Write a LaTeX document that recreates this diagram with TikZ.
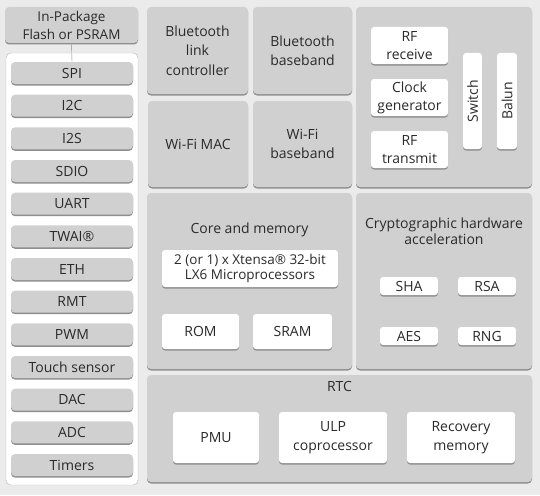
\documentclass[tikz,border=0pt]{standalone}
\usepackage{fontspec}
\setmainfont{Open Sans}
\usetikzlibrary{positioning,shadows}
\definecolor{pagebg}{HTML}{EBEBEB}
\definecolor{blockgray}{HTML}{D0D0D0}
\definecolor{shadegray}{HTML}{8E8E8E}
\definecolor{framegray}{HTML}{B8B8B8}
\definecolor{inkgray}{HTML}{2A2A2A}
\tikzset{
	block/.style={
		rectangle,
		rounded corners=4,
		fill=blockgray,
		text=inkgray,
		align=center,
		inner sep=0,
		drop shadow={shadow xshift=0pt,shadow yshift=-1.5pt,fill=shadegray,opacity=1}},
	chip/.style={
		block,
		fill=white,
		rounded corners=3},
	periph/.style={
		block,
		minimum width=122,
		minimum height=22},
	title/.style={
		text=inkgray,
		align=center,
		inner sep=0}}
\begin{document}
\begin{tikzpicture}[x=1pt,y=-1pt,font=\fontsize{14}{19.5}\selectfont]
	\fill[pagebg] (0,0) rectangle (540,495);
	\useasboundingbox (0,0) rectangle (540,495);
	% flash and peripherals
	\node[block,minimum width=133,minimum height=36,font=\fontsize{13.5}{18}\selectfont]	(flash)	at (71.5,25)	{In-Package\\Flash or PSRAM};
	\node[rectangle,rounded corners=5,draw=framegray,fill=white,minimum width=132,minimum height=432]	(bus)	at (72,269)	{};
	\foreach \name/\label [count=\i from 0] in {spi/SPI,itwoc/I2C,itwos/I2S,sdio/SDIO,uart/UART,twai/TWAI\textregistered,eth/ETH,rmt/RMT,pwm/PWM,touch/Touch sensor,dac/DAC,adc/ADC,timers/Timers}
		\node[periph]	(\name)	at (72,{73+32.67*\i})	{\label};
	\draw[shadegray] (flash.south) -- (spi.north);
	% radio
	\node[block,minimum width=101,minimum height=87]	(btlink)	at (197.5,50.5)	{Bluetooth\\link\\controller};
	\node[block,minimum width=99,minimum height=87]	(btbase)	at (302.5,50.5)	{Bluetooth\\baseband};
	\node[block,minimum width=100,minimum height=86]	(wifimac)	at (198,144)	{Wi-Fi MAC};
	\node[block,minimum width=99,minimum height=86]	(wifibase)	at (302.5,144)	{Wi-Fi\\baseband};
	\node[block,minimum width=176,minimum height=180]	(rf)	at (444,97)	{};
	\node[chip,minimum width=77,minimum height=37,font=\fontsize{14}{18}\selectfont]	(rfrx)	at (409.5,45.5)	{RF\\receive};
	\node[chip,minimum width=77,minimum height=37,font=\fontsize{14}{18}\selectfont]	(clkgen)	at (409.5,97.5)	{Clock\\generator};
	\node[chip,minimum width=77,minimum height=37,font=\fontsize{14}{18}\selectfont]	(rftx)	at (409.5,149.5)	{RF\\transmit};
	\node[chip,minimum width=19,minimum height=96]	(switch)	at (472.5,101)	{};
	\node[title,rotate=90]	at (switch)	{Switch};
	\node[chip,minimum width=20,minimum height=96]	(balun)	at (507,101)	{};
	\node[title,rotate=90]	at (balun)	{Balun};
	% core and memory
	\node[block,minimum width=205,minimum height=176]	(core)	at (249.5,281)	{};
	\node[title]	(coretitle)	at (249.5,230)	{Core and memory};
	\node[chip,minimum width=176,minimum height=37,font=\fontsize{13.5}{15.5}\selectfont]	(xtensa)	at (250,268.5)	{2 (or 1) x Xtensa\textregistered\ 32-bit\\LX6 Microprocessors};
	\node[chip,minimum width=77,minimum height=35]	(rom)	at (200.5,331.5)	{ROM};
	\node[chip,minimum width=79,minimum height=35]	(sram)	at (292.5,331.5)	{SRAM};
	% crypto
	\node[block,minimum width=176,minimum height=176]	(crypto)	at (444,281)	{};
	\node[title,font=\fontsize{14}{16}\selectfont]	(cryptotitle)	at (444,231)	{Cryptographic hardware\\acceleration};
	\node[chip,minimum width=58,minimum height=18]	(sha)	at (409,286)	{SHA};
	\node[chip,minimum width=58,minimum height=18]	(rsa)	at (487,286)	{RSA};
	\node[chip,minimum width=58,minimum height=18]	(aes)	at (409,336)	{AES};
	\node[chip,minimum width=58,minimum height=18]	(rng)	at (487,336)	{RNG};
	% rtc
	\node[block,minimum width=385,minimum height=107]	(rtc)	at (339.5,428.5)	{};
	\node[title]	(rtctitle)	at (339.5,386)	{RTC};
	\node[chip,minimum width=86,minimum height=51]	(pmu)	at (216,437.5)	{PMU};
	\node[chip,minimum width=108,minimum height=51]	(ulp)	at (333,437.5)	{ULP\\coprocessor};
	\node[chip,minimum width=108,minimum height=51]	(recovery)	at (461,437.5)	{Recovery\\memory};
\end{tikzpicture}
\end{document}
